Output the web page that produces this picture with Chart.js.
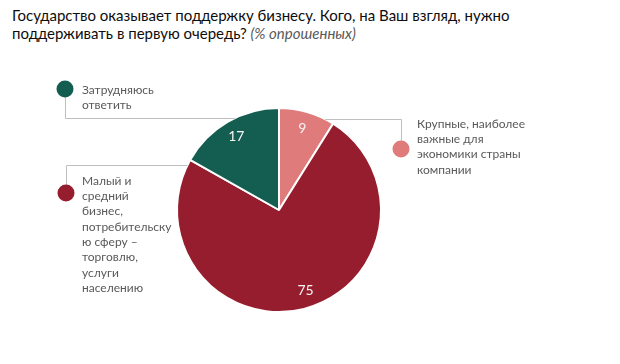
<!DOCTYPE html>
<html lang="ru">
<head>
<meta charset="utf-8">
<script src="https://cdn.jsdelivr.net/npm/chart.js@4/dist/chart.umd.min.js"></script>
<style>
  html, body { margin: 0; padding: 0; background: #fff; }
  #wrap { position: relative; width: 620px; height: 364px; }
  #title {
    position: absolute; left: 12px; top: 6px;
    font-family: Lato, "Open Sans", sans-serif; font-size: 15px; line-height: 18px; color: #0d0d0d;
  }
  #title i { color: #595959; }
  #pie { position: absolute; left: 0; top: 0; }
</style>
</head>
<body>
<div id="wrap">
  <div id="title">Государство оказывает поддержку бизнесу. Кого, на Ваш взгляд, нужно<br>поддерживать в первую очередь? <i>(% опрошенных)</i></div>
  <canvas id="pie" width="620" height="364"></canvas>
</div>
<script>
// Данные
const labelLines = [
    ['Крупные, наиболее', 'важные для', 'экономики страны', 'компании'],
    ['Малый и', 'средний', 'бизнес,', 'потребительску', 'ю сферу –', 'торговлю,', 'услуги', 'населению'],
    ['Затрудняюсь', 'ответить']
];
const categories = labelLines.map(l => l.join(' '));
const shares = [9, 75, 17];
const sliceColors = ['#e07b7b', '#951d2e', '#135e51'];

// Выноски: точка, излом линии, начало текста
const callouts = [
    { dot: [401, 149], elbowY: 119, text: [417, 124], right: true },
    { dot: [66, 193], elbowY: 165, text: [82, 181], right: false },
    { dot: [65, 89], elbowY: 118, text: [82, 90], right: false }
];

const FONT = 'Lato, "Open Sans", sans-serif';

const calloutPlugin = {
    id: 'callouts',
    afterDatasetsDraw(chart) {
        const ctx = chart.ctx;
        const arcs = chart.getDatasetMeta(0).data;
        const cx = arcs[0].x, cy = arcs[0].y, r = arcs[0].outerRadius;

        ctx.save();
        // линии и точки
        callouts.forEach((c, i) => {
            const dy = c.elbowY - cy;
            const dx = Math.sqrt(Math.max(r * r - dy * dy, 0));
            const edgeX = c.right ? cx + dx : cx - dx;
            ctx.strokeStyle = '#bfbfbf';
            ctx.lineWidth = 1;
            ctx.beginPath();
            ctx.moveTo(c.dot[0] + 0.5, c.dot[1]);
            ctx.lineTo(c.dot[0] + 0.5, c.elbowY + 0.5);
            ctx.lineTo(edgeX, c.elbowY + 0.5);
            ctx.stroke();

            ctx.fillStyle = sliceColors[i];
            ctx.beginPath();
            ctx.arc(c.dot[0], c.dot[1], 8.5, 0, Math.PI * 2);
            ctx.fill();

            ctx.fillStyle = '#595959';
            ctx.font = '12px ' + FONT;
            ctx.textAlign = 'left';
            ctx.textBaseline = 'middle';
            labelLines[i].forEach((line, k) => {
                ctx.fillText(line, c.text[0], c.text[1] + k * 15.3);
            });
        });

        // значения на секторах
        ctx.font = '14px ' + FONT;
        ctx.fillStyle = '#f4f4f4';
        ctx.textAlign = 'center';
        ctx.textBaseline = 'middle';
        arcs.forEach((a, i) => {
            const mid = (a.startAngle + a.endAngle) / 2 - (i === 1 ? 0.07 : 0);
            const rr = a.outerRadius * 0.83;
            ctx.fillText(String(shares[i]), a.x + Math.cos(mid) * rr, a.y + Math.sin(mid) * rr);
        });
        ctx.restore();
    }
};

new Chart(document.getElementById('pie'), {
    type: 'pie',
    data: {
        labels: categories,
        datasets: [{
            data: shares,
            backgroundColor: sliceColors,
            borderColor: '#ffffff',
            borderWidth: 2,
            hoverBorderWidth: 2,
            hoverOffset: 0
        }]
    },
    options: {
        responsive: false,
        animation: false,
        layout: { padding: { left: 176, right: 238, top: 107, bottom: 51 } },
        plugins: {
            legend: { display: false },
            tooltip: { enabled: false },
            title: { display: false }
        }
    },
    plugins: [calloutPlugin]
});
</script>
</body>
</html>
